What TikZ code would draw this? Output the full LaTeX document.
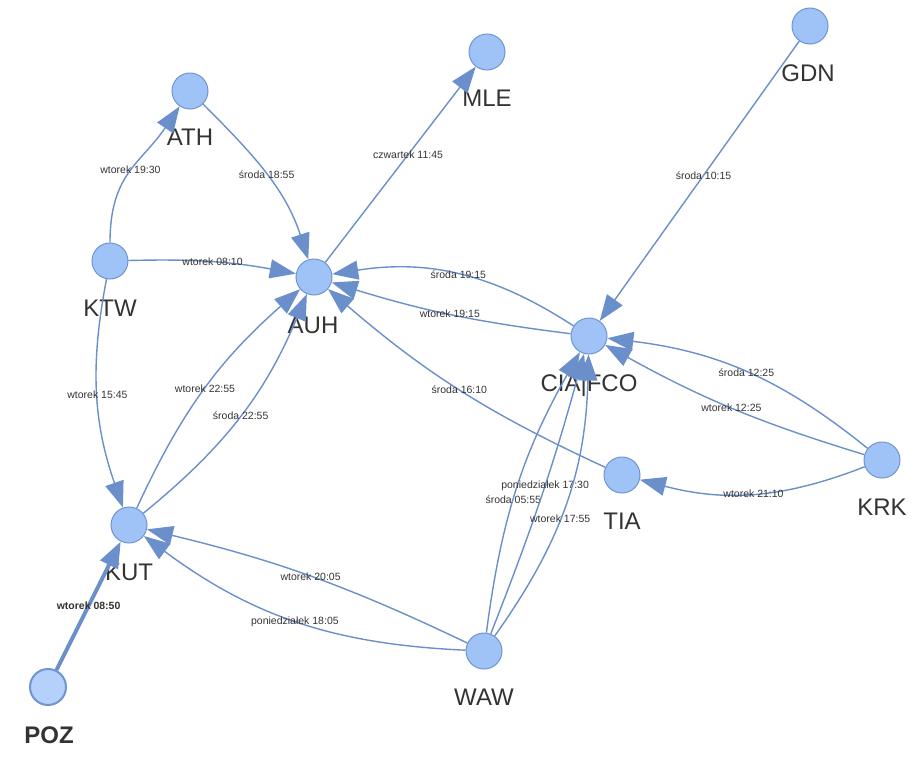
\documentclass[tikz,border=0pt]{standalone}
\usepackage{fontspec}
\setmainfont{Liberation Sans}
\usetikzlibrary{arrows.meta}
\definecolor{nfill}{HTML}{9FC2F7}
\definecolor{nborder}{HTML}{6F94D2}
\definecolor{ecol}{HTML}{6A8FCB}
\definecolor{tcol}{HTML}{333333}
\definecolor{pfill}{HTML}{B5D0FA}
\begin{document}
\begin{tikzpicture}[x=1pt,y=1pt,
  city/.style={circle,draw=nborder,fill=nfill,line width=1pt,minimum size=36pt,inner sep=0pt},
  cityname/.style={text=tcol,font=\fontsize{24}{28}\selectfont,text height=17.2pt,text depth=0pt,inner sep=0pt},
  edge/.style={draw=ecol,line width=1.4pt,-{Triangle[length=26pt,width=19pt]}},
  boldedge/.style={edge,line width=4pt},
  elbl/.style={text=tcol,font=\fontsize{10.5}{12}\selectfont,inner sep=1pt,text height=7.6pt,text depth=0pt}]
\useasboundingbox (0,0) rectangle (922,-758);
% nodes
\node[city] (ATH) at (190,-91) {};
\node[city] (MLE) at (487,-52) {};
\node[city] (GDN) at (810,-26) {};
\node[city] (KTW) at (110,-261) {};
\node[city] (AUH) at (314,-277) {};
\node[city] (CIA) at (589,-336) {};
\node[city] (TIA) at (622,-475) {};
\node[city] (KRK) at (882,-460) {};
\node[city] (KUT) at (129,-525) {};
\node[city] (WAW) at (484,-651) {};
\node[city,fill=pfill,line width=2pt] (POZ) at (48,-687) {};
% names
\node[cityname] (ATHt) at (190,-137) {ATH};
\node[cityname] (MLEt) at (487,-98) {MLE};
\node[cityname] (GDNt) at (808,-73) {GDN};
\node[cityname] (KTWt) at (110,-308) {KTW};
\node[cityname] (AUHt) at (313,-325) {AUH};
\node[cityname] (CIAt) at (589,-383) {CIA|FCO};
\node[cityname] (TIAt) at (622,-521) {TIA};
\node[cityname] (KRKt) at (882,-507) {KRK};
\node[cityname] (KUTt) at (129,-572) {KUT};
\node[cityname] (WAWt) at (484,-697) {WAW};
\node[cityname,font=\fontsize{24}{28}\selectfont\bfseries] (POZt) at (49,-735) {POZ};
% edges
\draw[edge] (KTW) to[out=90,in=236,looseness=1.15] node[elbl]{wtorek 19:30} (ATH);
\draw[edge] (ATH) to[out=-45,in=108] node[elbl]{środa 18:55} (AUH);
\draw[edge] (AUH) -- node[elbl,pos=0.55]{czwartek 11:45} (MLE);
\draw[edge] (GDN) -- node[elbl,pos=0.48]{środa 10:15} (CIA);
\draw[edge] (KTW) to[bend left=6] node[elbl]{wtorek 08:10} (AUH);
\draw[edge] (CIA) to[bend right=21] node[elbl]{środa 19:15} (AUH);
\draw[edge] (CIA) to[bend left=5] node[elbl]{wtorek 19:15} (AUH);
\draw[edge] (TIA) to[bend left=8] node[elbl]{środa 16:10} (AUH);
\draw[edge] (KRK) to[bend right=16] node[elbl]{środa 12:25} (CIA);
\draw[edge] (KRK) to[bend left=6] node[elbl]{wtorek 12:25} (CIA);
\draw[edge] (KRK) to[bend left=18] node[elbl]{wtorek 21:10} (TIA);
\draw[edge] (KTW) to[bend right=15] node[elbl]{wtorek 15:45} (KUT);
\draw[edge] (KUT) to[bend left=12] node[elbl]{wtorek 22:55} (AUH);
\draw[edge] (KUT) to[bend right=14] node[elbl]{środa 22:55} (AUH);
\draw[edge] (WAW) to[bend right=6] node[elbl]{wtorek 20:05} (KUT);
\draw[edge] (WAW) to[bend left=17] node[elbl]{poniedziałek 18:05} (KUT);
\draw[edge] (WAW) to[bend left=11] node[elbl,pos=0.45]{środa 05:55} (CIA);
\draw[edge] (WAW) to[bend right=3] node[elbl,pos=0.54]{poniedziałek 17:30} (CIA);
\draw[edge] (WAW) to[bend right=17] node[elbl,pos=0.44]{wtorek 17:55} (CIA);
\draw[boldedge] (POZ) -- node[elbl,font=\fontsize{10.5}{12}\selectfont\bfseries]{wtorek 08:50} (KUT);
\end{tikzpicture}
\end{document}
